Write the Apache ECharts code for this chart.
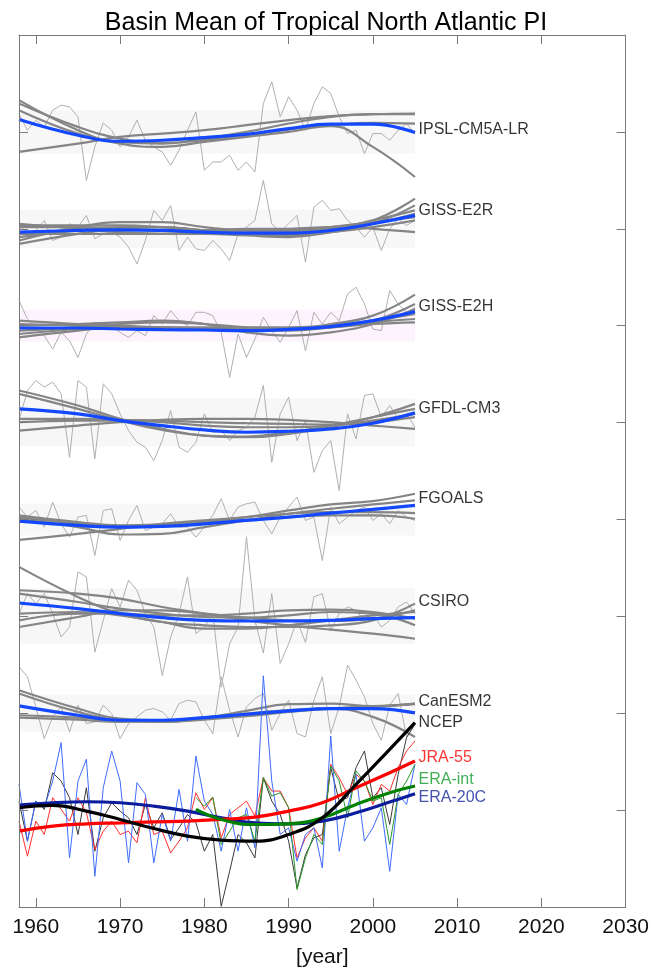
<!DOCTYPE html>
<html>
<head>
<meta charset="utf-8">
<script src="https://cdn.jsdelivr.net/npm/echarts@6/dist/echarts.min.js"></script>
<style>
  html, body { margin: 0; padding: 0; background: #fff; }
  #main { width: 652px; height: 974px; }
</style>
</head>
<body>
<div id="main"></div>
<script>
var years = [1958,1959,1960,1961,1962,1963,1964,1965,1966,1967,
  1968,1969,1970,1971,1972,1973,1974,1975,1976,1977,
  1978,1979,1980,1981,1982,1983,1984,1985,1986,1987,
  1988,1989,1990,1991,1992,1993,1994,1995,1996,1997,
  1998,1999,2000,2001,2002,2003,2004,2005];
var fitYears = [1958,1965,1970,1975,1980,1985,1990,1995,2000,2005];
var reanFitYears = [1958,1962,1966,1970,1974,1978,1982,1986,1990,1994,1998,2002,2005];
var eraIntYears = years.slice(21);
var eraIntFitYears = [1979,1982,1986,1990,1994,1998,2002,2005];
var tickYears = [1960,1970,1980,1990,2000,2010,2020,2030];

// --- IPSL-CM5A-LR
var ipslAnnual = [0.55,0.05,0.35,0.15,0.65,0.80,0.75,0.45,-1.45,-0.45,
  0.27,0.05,-0.45,-0.15,0.35,-0.25,-0.45,-0.60,-1.00,-0.55,
  0.05,0.60,-1.15,-0.90,-0.90,-0.70,-1.15,-0.90,-1.20,0.85,
  1.50,0.45,1.05,0.65,0.05,0.85,1.35,1.15,0.45,-0.05,
  0.05,-0.65,-0.05,-0.05,-0.25,0.05,0.25,-0.05];
var ipslMean = [0.37,-0.10,-0.28,-0.25,-0.17,-0.07,0.10,0.23,0.23,-0.02];
var ipslMembers = [
  [0.95,0.05,-0.35,-0.45,-0.30,-0.15,0.00,0.17,-0.45,-1.35],
  [-0.60,-0.35,-0.15,-0.05,0.05,0.20,0.35,0.47,0.53,0.55],
  [0.85,0.15,-0.20,-0.33,-0.25,-0.10,0.07,0.20,0.27,0.25],
  [0.65,-0.05,-0.30,-0.35,-0.20,0.00,0.25,0.45,0.53,0.53]
];

// --- GISS-E2R
var gissRAnnual = [0.15,-0.15,-0.05,0.25,-0.35,-0.25,0.15,0.05,0.40,-0.30,
  -0.15,-0.10,-0.25,-0.55,-1.05,-0.35,0.55,0.25,0.70,-0.65,
  -0.25,-0.60,-0.65,-0.35,-0.60,-0.95,-0.15,0.05,0.25,1.45,
  0.15,-0.10,0.15,0.40,-1.00,0.65,0.85,0.55,0.60,0.25,
  0.05,-0.25,0.05,-0.65,0.00,0.30,0.10,0.25];
var gissRMean = [-0.10,-0.05,-0.03,-0.05,-0.10,-0.13,-0.13,-0.05,0.15,0.40];
var gissRMembers = [
  [-0.35,0.05,0.20,0.20,0.05,-0.05,-0.05,0.05,0.25,0.90],
  [0.15,0.00,-0.10,-0.15,-0.15,-0.20,-0.25,-0.10,0.15,0.70],
  [-0.25,-0.05,0.05,0.05,-0.05,-0.10,-0.10,0.00,0.25,0.55],
  [0.05,0.05,0.00,-0.05,-0.05,0.00,0.00,0.05,0.00,-0.10],
  [-0.45,-0.15,0.00,0.05,-0.05,-0.15,-0.20,-0.10,0.05,0.25],
  [0.10,0.10,0.10,0.05,-0.05,-0.15,-0.15,-0.05,0.15,0.45],
  [-0.15,-0.15,-0.15,-0.15,-0.10,-0.05,-0.05,0.05,0.20,0.35]
];

// --- GISS-E2H
var gissHAnnual = [0.75,0.20,-0.05,-0.30,-0.70,-0.20,-0.45,-0.95,-0.25,0.10,
  -0.10,0.00,-0.20,-0.35,-0.15,-0.30,0.30,0.05,0.45,0.15,
  0.00,0.40,0.40,0.30,-0.20,-1.55,-0.25,-0.95,-0.40,0.25,
  -0.15,-0.50,-0.05,0.45,-0.75,0.40,0.05,0.40,0.15,0.95,
  1.15,0.65,-0.10,-0.15,1.05,0.65,0.40,0.55];
var gissHMean = [-0.07,-0.07,-0.10,-0.12,-0.13,-0.15,-0.11,-0.03,0.15,0.42];
var gissHMembers = [
  [-0.15,-0.05,0.05,0.10,0.05,-0.05,-0.10,0.05,0.30,0.93],
  [0.00,0.05,0.10,0.15,0.05,-0.20,-0.30,-0.20,0.05,0.50],
  [-0.35,-0.15,-0.05,-0.05,-0.10,-0.10,-0.10,0.00,0.15,0.35],
  [0.15,0.05,0.00,-0.05,-0.10,-0.15,-0.15,-0.05,0.10,0.20],
  [-0.25,-0.10,-0.05,-0.05,-0.05,-0.05,-0.05,0.00,0.15,0.65],
  [0.05,0.00,-0.05,-0.10,-0.12,-0.10,-0.08,-0.05,0.05,0.10]
];

// --- GFDL-CM3
var gfdlAnnual = [0.06,0.96,1.26,1.06,1.21,0.86,-1.04,1.26,1.06,-1.09,
  1.16,0.86,0.26,-0.24,-0.59,-0.74,-1.14,-0.54,0.36,-0.74,
  -0.89,-0.59,0.26,-0.29,-0.24,-0.54,-0.24,-0.14,0.16,1.11,
  -1.19,0.26,0.76,-0.54,0.06,-1.49,-0.84,-0.54,-2.04,0.26,
  -0.49,0.81,0.86,0.16,0.51,0.11,0.26,-0.14];
var gfdlMean = [0.41,0.26,0.06,-0.09,-0.22,-0.29,-0.26,-0.19,-0.02,0.29];
var gfdlMembers = [
  [0.96,0.51,0.11,-0.19,-0.39,-0.44,-0.34,-0.14,0.16,0.56],
  [0.86,0.41,0.06,-0.22,-0.39,-0.42,-0.29,-0.09,0.16,0.41],
  [-0.24,-0.09,0.01,0.08,0.11,0.11,0.08,0.01,-0.09,-0.19],
  [0.11,0.11,0.08,0.06,0.01,-0.02,-0.04,-0.06,0.01,0.16],
  [0.01,0.06,0.06,0.01,-0.09,-0.14,-0.14,-0.09,0.06,0.26]
];

// --- FGOALS
var fgoalsAnnual = [0.37,0.07,0.27,-0.23,0.52,-0.13,-0.53,0.07,0.12,-1.08,
  0.27,0.32,-0.63,-0.03,0.42,-0.33,-0.23,-0.13,0.17,-0.23,
  -0.23,-0.53,-0.23,0.12,0.62,-0.03,0.37,0.47,0.52,-0.03,
  -0.43,0.07,0.37,0.67,-0.03,0.07,-1.23,0.37,-0.13,0.07,
  0.27,0.37,-0.03,0.17,-0.13,0.27,0.07,-0.03];
var fgoalsMean = [-0.05,-0.18,-0.23,-0.21,-0.13,-0.03,0.07,0.19,0.30,0.42];
var fgoalsMembers = [
  [0.07,-0.13,-0.23,-0.21,-0.08,0.07,0.27,0.45,0.55,0.77],
  [-0.61,-0.43,-0.28,-0.13,-0.03,0.07,0.17,0.22,0.22,0.19],
  [0.02,-0.23,-0.45,-0.43,-0.23,-0.03,0.17,0.32,0.45,0.57],
  [0.12,-0.08,-0.18,-0.15,-0.08,-0.01,0.07,0.12,0.12,0.02]
];

// --- CSIRO
var csiroAnnual = [0.08,0.68,0.38,0.68,0.08,-0.62,-0.32,1.33,1.18,-1.07,
  -0.12,0.83,0.28,1.08,0.78,0.08,-0.32,-1.77,-0.62,0.08,
  1.18,-0.52,-0.32,0.08,-2.12,-0.82,-0.32,2.38,-0.12,-1.10,
  0.68,-1.41,-0.82,-0.12,-0.78,0.58,0.68,-0.42,0.08,0.28,
  0.18,-0.12,0.08,-0.32,-0.12,0.28,0.43,0.08];
var csiroMean = [0.40,0.23,0.08,-0.04,-0.12,-0.14,-0.14,-0.12,-0.07,-0.04];
var csiroMembers = [
  [1.48,0.58,0.08,-0.17,-0.27,-0.32,-0.32,-0.27,-0.12,0.38],
  [0.78,0.68,0.53,0.28,0.08,-0.12,-0.27,-0.40,-0.52,-0.67],
  [-0.32,-0.02,0.18,0.18,0.08,-0.04,-0.12,-0.14,-0.07,0.18],
  [0.08,0.13,0.03,-0.17,-0.37,-0.37,-0.27,-0.12,0.03,0.13],
  [0.68,0.43,0.23,0.08,-0.02,-0.04,0.03,0.13,0.08,-0.27],
  [-0.12,0.08,0.08,0.03,0.03,0.08,0.18,0.20,0.13,-0.07]
];

// --- CanESM2
var canAnnual = [1.39,1.09,0.19,-0.76,-0.11,0.19,-0.56,0.24,-0.31,-0.26,
  0.24,-0.01,-0.76,-0.31,-0.11,0.09,0.14,0.04,-0.21,0.29,
  0.39,0.34,-0.21,-0.61,1.09,0.09,-0.71,0.19,0.44,0.59,
  -0.51,-0.01,0.39,-0.61,-0.71,0.39,1.09,-0.61,0.19,1.44,
  0.99,0.49,-0.31,-0.81,0.24,0.59,-0.71,-0.31];
var canMean = [0.22,-0.06,-0.21,-0.21,-0.13,-0.03,0.07,0.14,0.14,0.01];
var canMembers = [
  [0.69,0.14,-0.16,-0.21,-0.13,0.07,0.27,0.29,0.21,0.29],
  [0.59,0.04,-0.21,-0.26,-0.16,-0.01,0.09,0.14,-0.11,-0.71],
  [-0.06,-0.13,-0.21,-0.26,-0.19,-0.09,0.04,0.14,0.21,0.27],
  [-0.13,-0.19,-0.26,-0.23,-0.16,-0.06,0.07,0.14,0.19,0.29]
];

// --- reanalyses
var ncepAnnual = [0.27,-0.93,0.27,0.02,1.12,0.87,0.37,-0.73,0.67,-1.23,
  -0.23,0.22,-0.03,-0.23,-0.73,0.17,-0.53,-0.08,-0.88,-0.53,
  -0.13,-0.38,-1.23,-0.73,-2.88,-1.83,-0.73,-0.98,-1.43,0.97,
  0.27,-0.13,-0.93,-2.33,-1.33,-0.83,-0.73,1.27,0.27,0.37,
  1.27,1.77,0.37,0.67,-0.43,1.07,2.17,2.57];
var jraAnnual = [-0.33,-1.38,-0.33,-0.73,0.37,0.02,-0.33,0.37,-0.08,-1.18,
  -0.63,-0.33,-0.73,-0.63,-0.98,0.37,-0.73,-0.63,-1.28,-0.93,
  -0.53,0.52,0.02,0.37,-0.83,-0.13,0.07,0.27,-0.18,0.97,
  0.57,0.57,0.07,-1.43,-0.83,-0.53,-0.93,1.37,0.97,0.47,
  1.07,0.87,0.17,0.77,0.57,1.27,1.77,2.07];
var eraIntAnnual = [0.37,0.12,0.39,-1.03,-0.63,-0.23,-0.13,-0.93,0.97,0.42,
  0.52,0.07,-2.38,-1.43,-0.73,-1.03,1.32,0.87,-0.23,1.17,
  0.87,0.27,0.37,-1.03,0.47,0.87,1.37];
var era20cAnnual = [0.77,-0.93,0.27,0.07,0.87,2.02,-1.43,0.87,1.52,-1.98,
  0.67,1.77,0.87,-1.58,0.82,0.47,-1.58,-0.13,-0.93,0.62,
  -0.93,1.62,0.27,-0.13,-1.23,0.02,-1.23,0.07,-1.13,4.02,
  0.87,-0.73,-0.53,-1.53,-0.73,-0.53,-1.73,2.22,-1.23,0.07,
  1.07,-0.93,-0.53,0.07,-1.83,0.47,0.17,1.37];
var ncepFit = [0.07,0.14,-0.03,-0.28,-0.55,-0.78,-0.90,-0.93,-0.73,-0.23,0.77,1.82,2.62];
var jraFit = [-0.63,-0.48,-0.41,-0.38,-0.35,-0.33,-0.28,-0.21,-0.03,0.22,0.67,1.12,1.47];
var era20cFit = [0.15,0.22,0.25,0.22,0.12,-0.03,-0.23,-0.38,-0.41,-0.33,-0.08,0.24,0.49];
var eraIntFit = [0.02,-0.28,-0.43,-0.41,-0.23,0.17,0.52,0.72];

// half width of the shaded band of each model
var bandHalf = [0.65, 0.58, 0.48, 0.72, 0.48, 0.83, 0.55];

var SPACING = 2.9;
var FONT = 'Liberation Sans, Arial, Helvetica, sans-serif';

function pts(xs, vs, off) {
  return vs.map(function (v, i) { return [xs[i], v + off]; });
}

var series = [];

var models = [
  {name: 'IPSL-CM5A-LR', k: 7, annual: ipslAnnual, mean: ipslMean, members: ipslMembers, band: '#f7f7f7'},
  {name: 'GISS-E2R', k: 6, annual: gissRAnnual, mean: gissRMean, members: gissRMembers, band: '#f7f7f7'},
  {name: 'GISS-E2H', k: 5, annual: gissHAnnual, mean: gissHMean, members: gissHMembers, band: '#fcf3fc'},
  {name: 'GFDL-CM3', k: 4, annual: gfdlAnnual, mean: gfdlMean, members: gfdlMembers, band: '#f7f7f7'},
  {name: 'FGOALS', k: 3, annual: fgoalsAnnual, mean: fgoalsMean, members: fgoalsMembers, band: '#f7f7f7'},
  {name: 'CSIRO', k: 2, annual: csiroAnnual, mean: csiroMean, members: csiroMembers, band: '#f7f7f7'},
  {name: 'CanESM2', k: 1, annual: canAnnual, mean: canMean, members: canMembers, band: '#f7f7f7'}
];

models.forEach(function (m, idx) {
  var off = m.k * SPACING;
  var h = bandHalf[idx];
  series.push({
    type: 'line', name: m.name + ' annual', data: pts(years, m.annual, off),
    symbol: 'none', z: 1,
    lineStyle: {color: '#b0b0b0', width: 1},
    markArea: {
      silent: true,
      itemStyle: {color: m.band},
      data: [[{coord: [1958, off - h]}, {coord: [2005, off + h]}]]
    }
  });
  m.members.forEach(function (mem, j) {
    series.push({
      type: 'line', name: m.name + ' r' + (j + 1), data: pts(fitYears, mem, off),
      symbol: 'none', smooth: 0.45, z: 2,
      lineStyle: {color: '#858585', width: 2.2}
    });
  });
  series.push({
    type: 'line', name: m.name + ' mean', data: pts(fitYears, m.mean, off),
    symbol: 'none', smooth: 0.45, z: 3,
    lineStyle: {color: '#1448ff', width: 3.2}
  });
});

// reanalyses: thin annual lines, then thick fits
[
  {d: ncepAnnual, xs: years, c: '#3a3a3a'},
  {d: jraAnnual, xs: years, c: '#ff3030'},
  {d: era20cAnnual, xs: years, c: '#3f6cff'},
  {d: eraIntAnnual, xs: eraIntYears, c: '#2a962a'}
].forEach(function (r) {
  series.push({
    type: 'line', data: pts(r.xs, r.d, 0), symbol: 'none', z: 4,
    lineStyle: {color: r.c, width: 1}
  });
});
[
  {d: era20cFit, xs: reanFitYears, c: '#0b1c9c'},
  {d: jraFit, xs: reanFitYears, c: '#ff0000'},
  {d: eraIntFit, xs: eraIntFitYears, c: '#008200'},
  {d: ncepFit, xs: reanFitYears, c: '#000000'}
].forEach(function (r) {
  series.push({
    type: 'line', data: pts(r.xs, r.d, 0), symbol: 'none', smooth: 0.45, z: 5,
    lineStyle: {color: r.c, width: 3.2}
  });
});

// name labels at the right end of each block
var labels = [
  {name: 'IPSL-CM5A-LR', y: 20.37, c: '#000'},
  {name: 'GISS-E2R', y: 17.94, c: '#000'},
  {name: 'GISS-E2H', y: 15.06, c: '#000'},
  {name: 'GFDL-CM3', y: 12.02, c: '#000'},
  {name: 'FGOALS', y: 9.32, c: '#000'},
  {name: 'CSIRO', y: 6.23, c: '#000'},
  {name: 'CanESM2', y: 3.26, c: '#000'},
  {name: 'NCEP', y: 2.61, c: '#000'},
  {name: 'JRA-55', y: 1.58, c: '#ff0000'},
  {name: 'ERA-int', y: 0.92, c: '#119a2a'},
  {name: 'ERA-20C', y: 0.38, c: '#17279a'}
];
series.push({
  type: 'scatter', symbol: 'circle', symbolSize: 2, z: 6, silent: true,
  itemStyle: {color: 'rgba(0,0,0,0)'},
  labelLayout: {hideOverlap: false},
  data: labels.map(function (l) {
    return {
      name: l.name, value: [2005.3, l.y],
      label: {show: true, position: 'right', distance: 0, formatter: l.name,
        color: l.c, fontSize: 16, fontFamily: FONT}
    };
  })
});

var axisGray = '#7a7a7a';
var yearFmt = function (v) { return String(v); };
var chart = echarts.init(document.getElementById('main'));
chart.setOption({
  animation: false,
  backgroundColor: '#fff',
  title: {
    text: 'Basin Mean of Tropical North Atlantic PI',
    left: 'center', top: 6,
    textStyle: {fontSize: 25, fontWeight: 'normal', color: '#000', fontFamily: FONT}
  },
  grid: {left: 19, right: 26, top: 35, bottom: 67},
  xAxis: [{
    type: 'value', min: 1958, max: 2030, position: 'bottom', z: 10,
    axisLine: {onZero: false, lineStyle: {color: axisGray, width: 1}},
    axisTick: {inside: true, length: 9, customValues: tickYears, lineStyle: {color: axisGray}},
    axisLabel: {customValues: tickYears, formatter: yearFmt, fontSize: 21, color: '#111',
      margin: 10, fontFamily: FONT},
    splitLine: {show: false},
    name: '[year]', nameLocation: 'middle', nameGap: 40,
    nameTextStyle: {fontSize: 21, color: '#111', fontFamily: FONT}
  }, {
    type: 'value', min: 1958, max: 2030, position: 'top', z: 10,
    axisLine: {onZero: false, lineStyle: {color: axisGray, width: 1}},
    axisTick: {inside: true, length: 9, customValues: tickYears, lineStyle: {color: axisGray}},
    axisLabel: {show: false},
    splitLine: {show: false}
  }],
  yAxis: [{
    type: 'value', min: -SPACING, max: 8 * SPACING, interval: SPACING, position: 'left', z: 10,
    axisLine: {show: true, onZero: false, lineStyle: {color: axisGray, width: 1}},
    axisTick: {show: true, inside: true, length: 9, lineStyle: {color: axisGray}},
    axisLabel: {show: false},
    splitLine: {show: false}
  }, {
    type: 'value', min: -SPACING, max: 8 * SPACING, interval: SPACING, position: 'right', z: 10,
    axisLine: {show: true, onZero: false, lineStyle: {color: axisGray, width: 1}},
    axisTick: {show: true, inside: true, length: 9, lineStyle: {color: axisGray}},
    axisLabel: {show: false},
    splitLine: {show: false}
  }],
  series: series
});
</script>
</body>
</html>
